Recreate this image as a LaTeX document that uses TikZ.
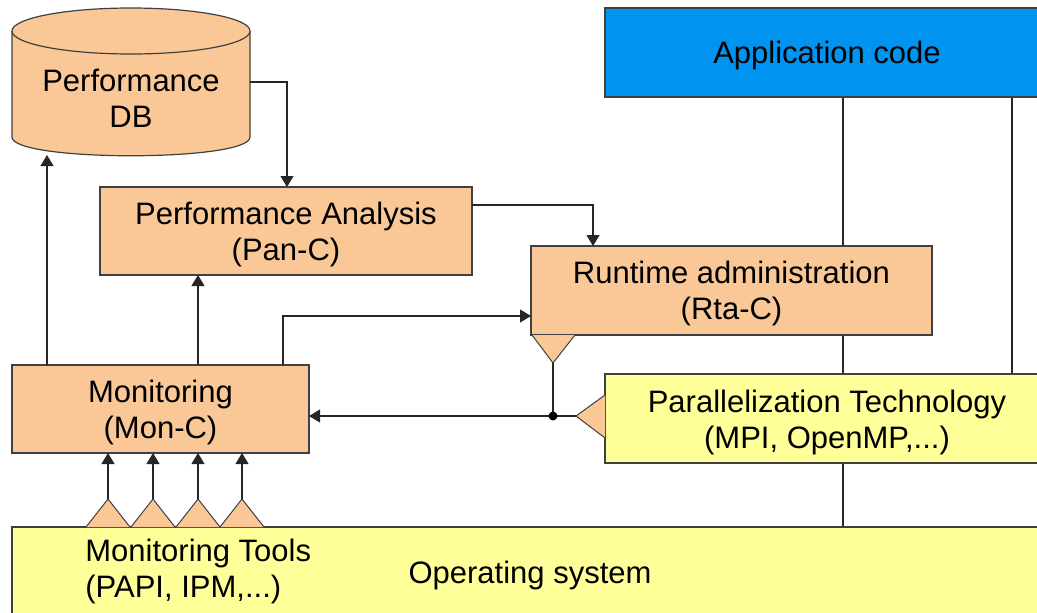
\documentclass[tikz,border=0pt]{standalone}
\usepackage{fontspec}
\setmainfont{Liberation Sans}
\usetikzlibrary{arrows.meta,fit}
\definecolor{peach}{HTML}{FAC896}
\definecolor{lemon}{HTML}{FFFF99}
\definecolor{appblue}{HTML}{0093F0}
\definecolor{edge}{HTML}{404040}

\begin{document}
\begin{tikzpicture}[x=0.5pt,y=-0.5pt,
  every node/.style={font=\fontsize{15.5}{18}\selectfont},
  box/.style={draw=edge, line width=0.6pt, inner sep=0pt},
  orange/.style={box, fill=peach},
  yellow/.style={box, fill=lemon},
  label/.style={align=center, inner sep=0pt, yshift=-1.5pt},
  link/.style={draw=black!85, line width=0.55pt},
  arr/.style={link, -{Triangle[length=5.5pt,width=6.5pt]}},
  tab/.style={fill=peach, draw=edge, line width=0.5pt}]
\useasboundingbox (0,0) rectangle (1037,612);
\begin{scope}
\clip (0,0) rectangle (1037,612);

% lines from the application code down through the layers
\coordinate (appa) at (843,97);
\coordinate (appb) at (1012,97);
\coordinate (osin) at (843,527);
\coordinate (parin) at (1012,374);
\draw[link] (appa) -- (osin);
\draw[link] (appb) -- (parin);

% application code
\node[box, fill=appblue, fit={(605,8) (1049,97)}] (app) {};
\node[label] (apptext) at (827,52) {Application code};

% performance database (cylinder)
\node[inner sep=0pt, fit={(12,8) (250,156)}] (db) {};
\fill[peach] (12,31) -- (12,137) .. controls (12,162) and (250,162) .. (250,137) -- (250,31) -- cycle;
\draw[edge, line width=0.6pt] (12,31) -- (12,137) .. controls (12,162) and (250,162) .. (250,137) -- (250,31);
\draw[edge, line width=0.6pt, fill=peach] (131,31) ellipse [x radius=119, y radius=23];
\node[label] (dbtext) at (131,95) {Performance\\DB};

% components
\node[orange, fit={(100,187) (472,275)}] (pa) {};
\node[label] (patext) at (pa) {Performance Analysis\\(Pan-C)};
\node[orange, fit={(531,246) (932,335)}] (rta) {};
\node[label] (rtatext) at (rta) {Runtime administration\\(Rta-C)};
\node[orange, fit={(12,365) (309,453)}] (mon) {};
\node[label] (montext) at (mon) {Monitoring\\(Mon-C)};
\node[yellow, fit={(605,374) (1049,463)}] (par) {};
\node[label] (partext) at (827,419) {Parallelization Technology\\(MPI, OpenMP,...)};
\node[yellow, fit={(12,527) (1049,625)}] (os) {};
\node[label, align=left, anchor=west] (tools) at (85,568) {Monitoring Tools\\(PAPI, IPM,...)};
\node[label] (ostext) at (530,572) {Operating system};

% tabs
\draw[tab] (532,335) -- (553,363) -- (575,335);
\coordinate (rtatab) at (553,363);
\draw[tab] (605,395) -- (576,416) -- (605,438);
\coordinate (partab) at (576,416);
\foreach \x/\n in {108/1,153/2,198/3,242/4}{
  \draw[tab] (\x-22,527) -- (\x,499) -- (\x+22,527);
  \coordinate (tool\n) at (\x,499);
}

% connectors
\coordinate (dbout) at (250,82);
\coordinate (pain) at (287,187);
\draw[arr] (dbout) -| (pain);
\coordinate (paout) at (472,205);
\coordinate (rtain) at (593,246);
\draw[arr] (paout) -| (rtain);
\coordinate (monup) at (283,365);
\coordinate (rtaleft) at (531,316);
\draw[arr] (monup) |- (rtaleft);
\coordinate (monpa) at (198,365);
\coordinate (pabottom) at (198,275);
\draw[arr] (monpa) -- (pabottom);
\coordinate (mondb) at (47,365);
\coordinate (dbbottom) at (47,155);
\draw[arr] (mondb) -- (dbbottom);
\coordinate (junction) at (553,416);
\coordinate (monright) at (309,416);
\draw[arr] (partab) -- (monright);
\draw[link] (rtatab) -- (junction);
\fill (junction) circle [radius=4.5];
\foreach \x/\n in {108/1,153/2,198/3,242/4}{
  \draw[arr] (tool\n) -- (\x,453);
}
\end{scope}
\end{tikzpicture}
\end{document}
